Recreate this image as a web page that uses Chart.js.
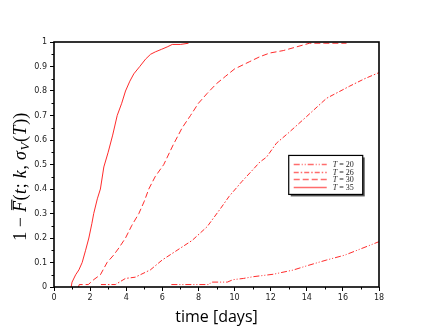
<!DOCTYPE html>
<html>
<head>
<meta charset="utf-8">
<script src="https://cdn.jsdelivr.net/npm/chart.js@4"></script>
<style>
  html, body { margin: 0; padding: 0; background: #fff; }
  #chart { display: block; }
</style>
</head>
<body>
<canvas id="chart" width="436" height="328"></canvas>
<script>
// values (time in days, 1 - F)
const t35X = [0.95, 1.0, 1.2, 1.38, 1.56, 1.75, 1.93, 2.1, 2.2, 2.4, 2.57, 2.76, 3.0, 3.25, 3.5, 3.75, 3.96, 4.2, 4.42, 4.75, 5.07, 5.35, 5.62, 5.95, 6.27, 6.55, 7.0, 7.45];
const t35Y = [0, 0.02, 0.05, 0.07, 0.1, 0.15, 0.2, 0.26, 0.3, 0.36, 0.4, 0.49, 0.55, 0.62, 0.7, 0.75, 0.8, 0.84, 0.87, 0.9, 0.93, 0.95, 0.96, 0.97, 0.98, 0.99, 0.99, 0.995];

const t30X = [1.35, 1.4, 1.9, 2.2, 2.57, 2.94, 3.3, 3.6, 3.96, 4.3, 4.7, 5.0, 5.25, 5.6, 6.08, 6.6, 7.1, 7.56, 8.0, 8.48, 9.0, 9.5, 10.0, 10.84, 11.4, 11.95, 12.7, 13.43, 14.15, 15.0, 16.2];
const t30Y = [0, 0.01, 0.01, 0.03, 0.05, 0.1, 0.13, 0.16, 0.2, 0.25, 0.3, 0.35, 0.4, 0.45, 0.5, 0.58, 0.65, 0.7, 0.75, 0.79, 0.83, 0.86, 0.89, 0.92, 0.94, 0.955, 0.965, 0.98, 0.995, 0.995, 0.995];

const t26X = [2.6, 3.4, 3.96, 4.5, 5.34, 5.99, 6.82, 7.65, 8.48, 9.22, 9.7, 10.4, 11.03, 11.4, 11.77, 12.32, 13.0, 13.98, 15.09, 16.38, 17.2, 18.0];
const t26Y = [0.01, 0.01, 0.035, 0.04, 0.07, 0.11, 0.15, 0.19, 0.246, 0.32, 0.37, 0.43, 0.48, 0.51, 0.53, 0.587, 0.63, 0.695, 0.77, 0.82, 0.85, 0.875];

const t20X = [6.5, 8.6, 8.7, 9.6, 9.92, 10.5, 11.03, 12.14, 13.24, 13.98, 15.09, 16.1, 16.93, 18.0];
const t20Y = [0.01, 0.01, 0.02, 0.02, 0.03, 0.035, 0.042, 0.052, 0.069, 0.086, 0.11, 0.13, 0.154, 0.185];

const seriesNames = ['20', '26', '30', '35'];
const xTicks = [0, 2, 4, 6, 8, 10, 12, 14, 16, 18];
const yTicks = [0, 0.1, 0.2, 0.3, 0.4, 0.5, 0.6, 0.7, 0.8, 0.9, 1];

const RED = 'rgba(255, 20, 20, 0.9)';
const dashes = [[6, 2, 1, 2, 1, 2], [5, 2, 1.5, 2], [6, 3], []];

function pts(xs, ys) {
  return xs.map((x, i) => ({ x: x, y: ys[i] }));
}

const seriesData = [pts(t20X, t20Y), pts(t26X, t26Y), pts(t30X, t30Y), pts(t35X, t35Y)];

// frame, minor ticks, axis titles and inner legend
const decorPlugin = {
  id: 'decor',
  afterDraw(chart) {
    const ctx = chart.ctx;
    const a = chart.chartArea;
    const xs = chart.scales.x;
    const ys = chart.scales.y;
    ctx.save();

    // minor ticks
    ctx.strokeStyle = '#000';
    ctx.lineWidth = 1;
    ctx.beginPath();
    for (let v = 1; v < 18; v += 2) {
      const px = Math.round(xs.getPixelForValue(v)) + 0.5;
      ctx.moveTo(px, a.bottom);
      ctx.lineTo(px, a.bottom + 2.5);
    }
    for (let v = 0.05; v < 1; v += 0.1) {
      const py = Math.round(ys.getPixelForValue(v)) + 0.5;
      ctx.moveTo(a.left, py);
      ctx.lineTo(a.left - 2.5, py);
    }
    ctx.stroke();

    // frame
    ctx.lineWidth = 1.6;
    ctx.strokeRect(a.left, a.top, a.right - a.left, a.bottom - a.top);

    // x title
    ctx.fillStyle = '#000';
    ctx.font = '16px "Open Sans"';
    ctx.textAlign = 'center';
    ctx.textBaseline = 'alphabetic';
    ctx.fillText('time [days]', (a.left + a.right) / 2, 322);

    // y title (rotated)
    const segs = [
      { t: '1 \u2212 ', it: false },
      { t: 'F', it: true, bar: true },
      { t: '(', it: false },
      { t: 't', it: true },
      { t: '; ', it: false },
      { t: 'k', it: true },
      { t: ', ', it: false },
      { t: '\u03C3', it: true },
      { t: 'V', it: true, sub: true },
      { t: '(', it: false },
      { t: 'T', it: true },
      { t: '))', it: false }
    ];
    const size = 18;
    const fontOf = (s) => (s.it ? 'italic ' : '') + (s.sub ? 13 : size) + 'px "Liberation Serif"';
    let total = 0;
    segs.forEach(s => { ctx.font = fontOf(s); s.w = ctx.measureText(s.t).width + 0.6; total += s.w; });
    ctx.translate(26, (a.top + a.bottom) / 2 + 12);
    ctx.rotate(-Math.PI / 2);
    ctx.textAlign = 'left';
    let cx = -total / 2;
    segs.forEach(s => {
      ctx.font = fontOf(s);
      ctx.fillText(s.t, cx, s.sub ? 3 : 0);
      if (s.bar) {
        ctx.fillRect(cx + 2, -size * 0.82, s.w - 1, 1.1);
      }
      cx += s.w;
    });
    ctx.setTransform(1, 0, 0, 1, 0, 0);

    // legend box inside the plot
    const lx = xs.getPixelForValue(13.0);
    const ly = ys.getPixelForValue(0.537);
    const lw = 74, lh = 39;
    ctx.fillStyle = '#555';
    ctx.fillRect(lx + 2, ly + 2, lw, lh);
    ctx.fillStyle = '#fff';
    ctx.fillRect(lx, ly, lw, lh);
    ctx.strokeStyle = '#000';
    ctx.lineWidth = 1.2;
    ctx.strokeRect(lx, ly, lw, lh);
    chart.data.datasets.forEach((ds, i) => {
      const ry = Math.round(ly + 8.5 + i * 7.7) + 0.5;
      ctx.strokeStyle = 'rgba(255, 60, 60, 0.75)';
      ctx.lineWidth = 1.6;
      ctx.setLineDash(ds.borderDash || []);
      ctx.beginPath();
      ctx.moveTo(lx + 5, ry);
      ctx.lineTo(lx + 38, ry);
      ctx.stroke();
      ctx.setLineDash([]);
      ctx.fillStyle = '#222';
      ctx.textBaseline = 'middle';
      ctx.font = 'italic 8px "Liberation Serif"';
      ctx.fillText('T', lx + 44, ry + 0.5);
      const tw = ctx.measureText('T').width;
      ctx.font = '8px "Liberation Serif"';
      ctx.fillText(' = ' + seriesNames[i], lx + 44 + tw, ry + 0.5);
    });
    ctx.restore();
  }
};

new Chart(document.getElementById('chart'), {
  type: 'scatter',
  data: {
    datasets: seriesData.map((d, i) => ({
      label: 'T = ' + seriesNames[i],
      data: d,
      showLine: true,
      borderColor: RED,
      borderWidth: 1,
      borderDash: dashes[i],
      pointRadius: 0,
      fill: false,
      tension: 0
    }))
  },
  options: {
    responsive: false,
    animation: false,
    layout: { padding: { top: 42, right: 57, left: 0, bottom: 0 } },
    plugins: { legend: { display: false }, tooltip: { enabled: false } },
    scales: {
      x: {
        type: 'linear',
        min: 0,
        max: 18,
        afterBuildTicks: (s) => { s.ticks = xTicks.map(v => ({ value: v })); },
        afterFit: (s) => { s.height = 41; },
        grid: { display: true, drawOnChartArea: false, tickLength: 4, color: '#000', lineWidth: 1 },
        border: { display: false },
        ticks: { maxRotation: 0, autoSkip: false, padding: 2, color: '#222', font: { family: 'DejaVu Sans', size: 8 } }
      },
      y: {
        min: 0,
        max: 1,
        afterBuildTicks: (s) => { s.ticks = yTicks.map(v => ({ value: v })); },
        afterFit: (s) => { s.width = 54; },
        grid: { display: true, drawOnChartArea: false, tickLength: 4, color: '#000', lineWidth: 1 },
        border: { display: false },
        ticks: {
          padding: 3,
          color: '#222',
          font: { family: 'DejaVu Sans', size: 8 },
          callback: (v) => String(Math.round(v * 10) / 10)
        }
      }
    }
  },
  plugins: [decorPlugin]
});
</script>
</body>
</html>
